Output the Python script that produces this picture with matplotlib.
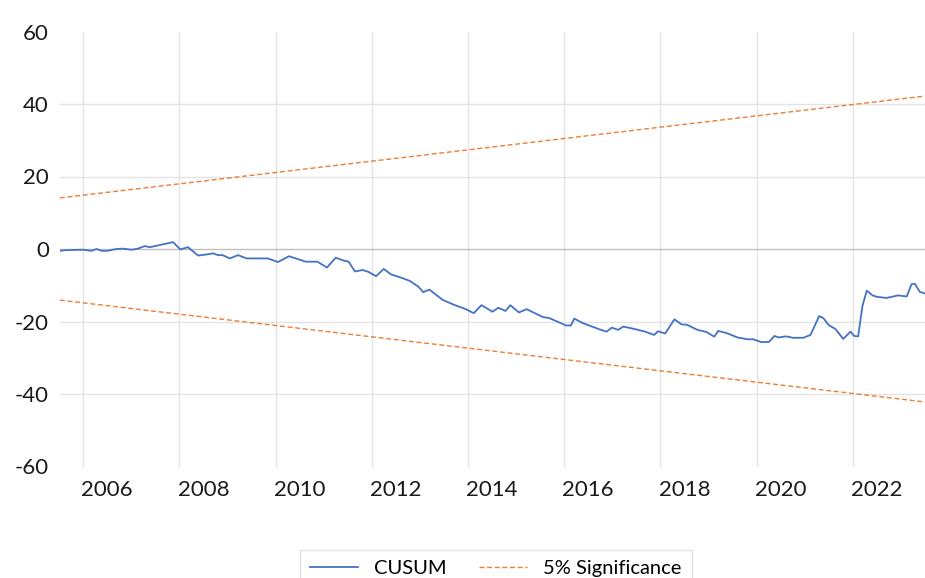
import numpy as np
import matplotlib
matplotlib.use("Agg")
import matplotlib.pyplot as plt

# CUSUM path (decimal year, value)
cusum_years = [2005.52, 2005.66, 2005.99, 2006.18, 2006.28, 2006.38, 2006.51, 2006.69, 2006.83, 2007.01,
               2007.14, 2007.28, 2007.39, 2007.53, 2007.87, 2008.02, 2008.18, 2008.39, 2008.57, 2008.70,
               2008.81, 2008.90, 2009.05, 2009.22, 2009.40, 2009.84, 2010.05, 2010.28, 2010.63, 2010.87,
               2011.07, 2011.25, 2011.42, 2011.52, 2011.65, 2011.81, 2011.93, 2012.09, 2012.25, 2012.40,
               2012.61, 2012.79, 2012.97, 2013.07, 2013.20, 2013.47, 2013.71, 2013.94, 2014.12, 2014.28,
               2014.51, 2014.63, 2014.78, 2014.88, 2015.06, 2015.22, 2015.56, 2015.68, 2016.04, 2016.14,
               2016.21, 2016.38, 2016.74, 2016.88, 2016.99, 2017.12, 2017.23, 2017.44, 2017.68, 2017.87,
               2017.95, 2018.10, 2018.29, 2018.44, 2018.55, 2018.77, 2018.96, 2019.12, 2019.20, 2019.38,
               2019.60, 2019.81, 2019.93, 2020.10, 2020.26, 2020.37, 2020.46, 2020.61, 2020.76, 2020.97,
               2021.12, 2021.30, 2021.39, 2021.50, 2021.64, 2021.80, 2021.95, 2022.03, 2022.11, 2022.20,
               2022.29, 2022.41, 2022.50, 2022.70, 2022.94, 2023.12, 2023.22, 2023.29, 2023.39, 2023.50]
cusum_values = [-0.5, -0.3, -0.2, -0.5, 0.0, -0.5, -0.5, 0.0, 0.1, -0.2,
                0.1, 0.8, 0.5, 0.9, 1.9, -0.1, 0.5, -1.8, -1.5, -1.2,
                -1.7, -1.7, -2.6, -1.7, -2.6, -2.6, -3.6, -2.0, -3.5, -3.5,
                -5.1, -2.4, -3.2, -3.5, -6.2, -5.8, -6.3, -7.5, -5.5, -7.0,
                -7.9, -8.8, -10.4, -11.9, -11.2, -14.0, -15.4, -16.5, -17.7, -15.5,
                -17.3, -16.2, -17.1, -15.5, -17.5, -16.6, -18.8, -19.0, -21.1, -21.1,
                -19.2, -20.4, -22.2, -22.8, -21.7, -22.3, -21.4, -22.0, -22.8, -23.7,
                -22.7, -23.3, -19.4, -20.8, -20.9, -22.3, -22.9, -24.2, -22.6, -23.2,
                -24.4, -24.9, -24.9, -25.7, -25.6, -24.0, -24.4, -24.1, -24.5, -24.5,
                -23.7, -18.5, -19.1, -21.0, -22.1, -24.8, -22.8, -24.0, -24.1, -15.7,
                -11.5, -12.8, -13.2, -13.5, -12.8, -13.1, -9.7, -9.6, -11.8, -12.3]

# 5% significance bounds (straight lines)
bound_years = [2005.52, 2023.50]
upper_bound = [14.1, 42.2]
lower_bound = [-14.1, -42.2]

year_ticks = list(range(2006, 2023, 2))
y_ticks = [-60, -40, -20, 0, 20, 40, 60]

plt.rcParams['font.family'] = ['Lato', 'DejaVu Sans']

fig = plt.figure(figsize=(9.25, 5.78), dpi=100)
ax = fig.add_axes([60 / 925, 1 - 466.5 / 578, 865 / 925, 435 / 578])

# gridlines (none at the +/-60 edges, zero line darker)
for yv in y_ticks:
    if yv == 0:
        ax.axhline(yv, color='#BFBFBF', lw=1.0, zorder=1)
    elif abs(yv) < 60:
        ax.axhline(yv, color='#E3E3E3', lw=1.0, zorder=0)
for yr in year_ticks:
    ax.axvline(yr, color='#E3E3E3', lw=1.0, zorder=0)

ax.plot(cusum_years, cusum_values, color='#4472C4', lw=1.3, label='CUSUM', zorder=3)
ax.plot(bound_years, upper_bound, color='#ED7D31', lw=1.0, ls=(0, (3.5, 2)), label='5% Significance', zorder=2)
ax.plot(bound_years, lower_bound, color='#ED7D31', lw=1.0, ls=(0, (3.5, 2)), zorder=2)

ax.set_xlim(bound_years[0], bound_years[1])
ax.set_ylim(-60, 60)
ax.set_yticks(y_ticks)
ax.set_yticklabels([str(v) for v in y_ticks])

# labels sit half a year to the right of the gridlines
ax.set_xticks([yr + 0.5 for yr in year_ticks])
ax.set_xticklabels([str(yr) for yr in year_ticks])

ax.tick_params(axis='both', length=0, labelsize=16, colors='#1a1a1a')
ax.tick_params(axis='y', pad=8)
ax.tick_params(axis='x', pad=10)
for spine in ax.spines.values():
    spine.set_visible(False)

handles, labels = ax.get_legend_handles_labels()
leg = fig.legend(handles, labels, loc='upper center', bbox_to_anchor=(0.536, 1 - 540 / 578),
                 ncol=2, fontsize=14.5, frameon=True, fancybox=False, handlelength=2.4,
                 columnspacing=1.6, borderpad=0.5)
leg.get_frame().set_edgecolor('#D9D9D9')
leg.get_frame().set_linewidth(1.0)

fig.savefig('out.png', dpi=100)
